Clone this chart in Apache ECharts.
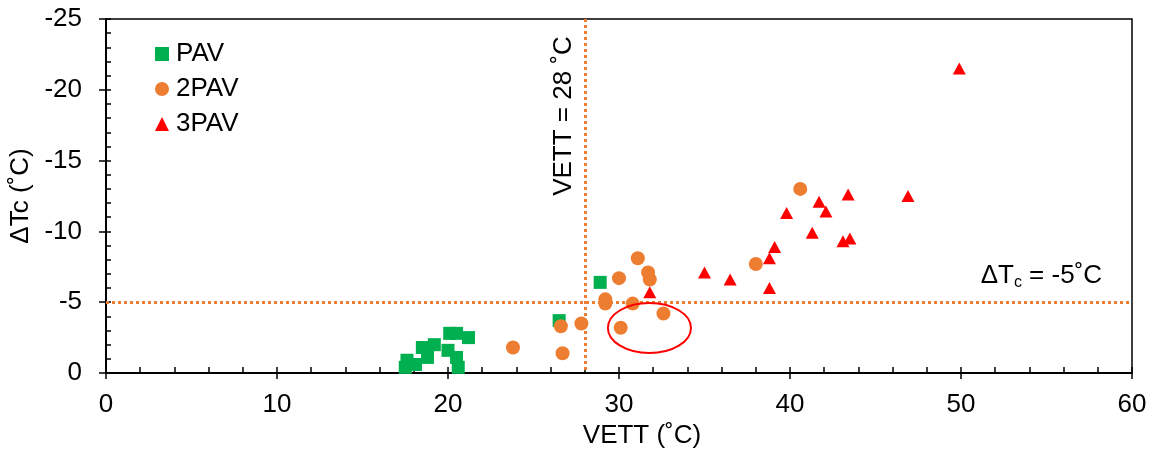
<!DOCTYPE html>
<html><head><meta charset="utf-8">
<script src="https://cdn.jsdelivr.net/npm/echarts@6/dist/echarts.min.js"></script>
<style>html,body{margin:0;padding:0;background:#fff}#c{width:1154px;height:451px}</style>
</head><body><div id="c"></div>
<script>
// VETT (°C) and ΔTc (°C)
const pavX  = [17.5, 17.6, 18.1, 18.5, 18.8, 19.2, 20.0, 20.1, 20.5, 20.5, 20.6, 21.2, 26.5, 28.9];
const pavY  = [-0.4, -0.9, -0.6, -1.8, -1.1, -2.0, -1.6, -2.8, -2.8, -1.1, -0.4, -2.5, -3.7, -6.4];
const pav2X = [23.8, 26.6, 26.7, 27.8, 29.2, 29.2, 30.0, 30.8, 30.1, 31.1, 31.7, 31.8, 32.6, 38.0, 40.6];
const pav2Y = [-1.8, -3.3, -1.4, -3.5, -5.2, -4.9, -6.7, -4.9, -3.2, -8.1, -7.1, -6.6, -4.2, -7.7, -13.0];
const pav3X = [31.8, 35.0, 36.5, 38.8, 38.8, 39.1, 39.8, 41.3, 41.7, 42.1, 43.1, 43.5, 43.4, 46.9, 49.9];
const pav3Y = [-5.7, -7.1, -6.6, -6.0, -8.1, -8.9, -11.3, -9.9, -12.1, -11.4, -9.3, -9.5, -12.6, -12.5, -21.5];
const seriesNames = ['PAV', '2PAV', '3PAV'];
const vettLimit = 28;
const dtcLimit = -5;
const circled = {x: 31.78, y: -3.18, rx: 2.43, ry: 1.77};

const zip = (a, b) => a.map((v, i) => [v, b[i]]);
const FONT = 'Liberation Sans, Arial, sans-serif';
const FS = 26;
const chart = echarts.init(document.getElementById('c'));
const baseAxisX = {type: 'value', min: 0, max: 60, position: 'bottom'};
const baseAxisY = {type: 'value', min: -25, max: 0, inverse: true, position: 'left'};
chart.setOption({
  animation: false,
  textStyle: {fontFamily: FONT},
  grid: {left: 106, right: 22, top: 19, bottom: 78, containLabel: false, outerBoundsMode: 'none',
         show: true, borderColor: '#000', borderWidth: 1.5},
  legend: {
    orient: 'vertical', left: 150, top: 36, itemWidth: 14, itemHeight: 14, itemGap: 9,
    textStyle: {fontSize: FS, color: '#000', fontFamily: FONT, padding: [0, 0, 0, 2]}, data: seriesNames
  },
  xAxis: [
    Object.assign({}, baseAxisX, {
      interval: 10, name: 'VETT (˚C)', nameLocation: 'middle', nameGap: 47,
      nameTextStyle: {fontSize: FS, color: '#000', fontFamily: FONT, padding: [0, 0, 0, 46]},
      axisLine: {onZero: false, lineStyle: {color: '#000', width: 2}},
      axisTick: {show: true, length: 6, lineStyle: {color: '#000', width: 1.5}},
      axisLabel: {fontSize: FS, color: '#000', margin: 19, fontFamily: FONT},
      splitLine: {show: false}
    }),
    Object.assign({}, baseAxisX, {
      interval: 2,
      axisLine: {show: false, onZero: false},
      axisTick: {show: true, inside: true, length: 6, lineStyle: {color: '#000', width: 1.5}},
      axisLabel: {show: false}, splitLine: {show: false}
    })
  ],
  yAxis: [
    Object.assign({}, baseAxisY, {
      interval: 5, name: 'ΔTc (˚C)', nameLocation: 'middle', nameGap: 70, nameRotate: 90,
      nameTextStyle: {fontSize: FS, color: '#000', fontFamily: FONT},
      axisLine: {onZero: false, lineStyle: {color: '#000', width: 2}},
      axisTick: {show: true, length: 7, lineStyle: {color: '#000', width: 1.5}},
      axisLabel: {fontSize: FS, color: '#000', margin: 24, fontFamily: FONT},
      splitLine: {show: false}
    }),
    Object.assign({}, baseAxisY, {
      interval: 1,
      axisLine: {show: false, onZero: false},
      axisTick: {show: true, inside: true, length: 5, lineStyle: {color: '#000', width: 1.5}},
      axisLabel: {show: false}, splitLine: {show: false}
    })
  ],
  series: [
    {
      name: 'limits', type: 'scatter', data: [], silent: true,
      markLine: {
        silent: true, symbol: 'none', animation: false,
        label: {show: false},
        lineStyle: {color: '#ED7D31', width: 3, type: [3, 3]},
        data: [{xAxis: vettLimit}, {yAxis: dtcLimit}]
      }
    },
    {name: 'PAV', type: 'scatter', symbol: 'rect', symbolSize: 13, z: 3,
     itemStyle: {color: '#00B050', opacity: 1}, data: zip(pavX, pavY)},
    {name: '2PAV', type: 'scatter', symbol: 'circle', symbolSize: 14, z: 4,
     itemStyle: {color: '#ED7D31', opacity: 1}, data: zip(pav2X, pav2Y)},
    {name: '3PAV', type: 'scatter', symbol: 'triangle', symbolSize: [13, 12], z: 5,
     itemStyle: {color: '#FF0000', opacity: 1}, data: zip(pav3X, pav3Y)}
  ]
});

// Annotations positioned through the chart's scales
const px = (x, y) => chart.convertToPixel({xAxisIndex: 0, yAxisIndex: 0}, [x, y]);
const c = px(circled.x, circled.y);
const e1 = px(circled.x + circled.rx, circled.y + circled.ry);
const vLab = px(vettLimit, -18.15);
const hLab = px(58.25, -6.85);
chart.setOption({
  graphic: [
    {type: 'ellipse', shape: {cx: c[0], cy: c[1], rx: Math.abs(e1[0] - c[0]), ry: Math.abs(e1[1] - c[1])},
     style: {fill: 'none', stroke: '#FF0000', lineWidth: 2}, z: 10},
    {type: 'text', x: vLab[0] - 21, y: vLab[1], rotation: Math.PI / 2,
     style: {text: 'VETT = 28 ˚C', font: FS + 'px ' + FONT, fill: '#000', align: 'center', verticalAlign: 'middle'}, z: 10},
    {type: 'text', x: hLab[0], y: hLab[1],
     style: {text: '{m|ΔT}{s|c}{m| = -5˚C}', align: 'right', verticalAlign: 'middle', fill: '#000',
       rich: {m: {fontSize: FS, fontFamily: FONT, fill: '#000'}, s: {fontSize: 16, fontFamily: FONT, fill: '#000', padding: [14, 0, 0, 0]}}}, z: 10}
  ]
});
</script></body></html>
